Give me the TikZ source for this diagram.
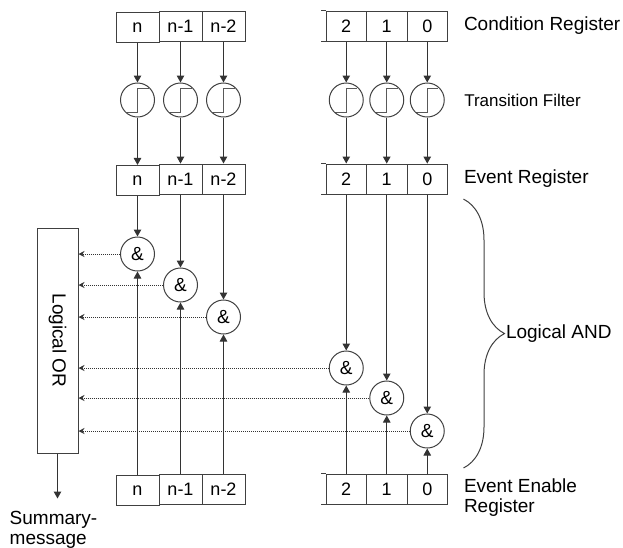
\documentclass[tikz,border=0pt]{standalone}
\usepackage{fontspec}
\setmainfont{Liberation Sans}
\usetikzlibrary{matrix,positioning,decorations.pathreplacing,arrows.meta}

\begin{document}
\begin{tikzpicture}[
    x=1pt, y=-1pt, line width=1pt,
    font=\fontsize{19}{20}\selectfont,
    reg/.style={matrix of nodes, inner sep=0pt, column sep=-1pt,
        nodes={draw=black!75, minimum height=30pt, minimum width=43pt, inner sep=0pt,
            font=\fontsize{18}{20}\selectfont}},
    regr/.style={reg, nodes={minimum width=40.5pt}},
    filt/.style={circle, draw=black!75, minimum size=34pt, inner sep=0pt,
        path picture={\draw[black!65] ([xshift=-11pt,yshift=-12pt]path picture bounding box.center)
            -- ++(11pt,0pt) -- ++(0pt,24pt) -- ++(11pt,0pt);}},
    gate/.style={circle, draw=black!75, minimum size=34pt, inner sep=0pt},
    arr/.style={draw=black!80, -{Triangle[length=7pt,width=7.5pt]}},
    dot/.style={draw=black!80, dash pattern=on 1pt off 1pt, -{Stealth[length=6pt,width=6pt]}},
    lbl/.style={inner sep=0pt, text=black}
]
    \useasboundingbox (0,0) rectangle (623,547);

    % Condition register
    \matrix (CL) [reg, anchor=north west] at (115,10) {
        n & n-1 & n-2 \\
    };
    \matrix (CR) [regr, anchor=north west] at (325,10) {
        2 & 1 & 0 \\
    };

    % Event register
    \matrix (EL) [reg, anchor=north west] at (115,163) {
        n & n-1 & n-2 \\
    };
    \matrix (ER) [regr, anchor=north west] at (325,163) {
        2 & 1 & 0 \\
    };

    % Event enable register
    \matrix (NL) [reg, anchor=north west] at (115,473) {
        n & n-1 & n-2 \\
    };
    \matrix (NR) [regr, anchor=north west] at (325,473) {
        2 & 1 & 0 \\
    };

    \draw[black!75] (CR-1-1.north west) -- ++(-5pt,0pt);
    \draw[black!75] (CR-1-1.south west) -- ++(-5pt,0pt);
    \draw[black!75] (ER-1-1.north west) -- ++(-5pt,0pt);
    \draw[black!75] (ER-1-1.south west) -- ++(-5pt,0pt);
    \draw[black!75] (NR-1-1.north west) -- ++(-5pt,0pt);
    \draw[black!75] (NR-1-1.south west) -- ++(-5pt,0pt);

    % Transition filters
    \node[filt] (fn) at (CL-1-1 |- 0,100) {};
    \node[filt] (fm1) at (CL-1-2 |- 0,100) {};
    \node[filt] (fm2) at (CL-1-3 |- 0,100) {};
    \node[filt] (f2) at (CR-1-1 |- 0,100) {};
    \node[filt] (f1) at (CR-1-2 |- 0,100) {};
    \node[filt] (f0) at (CR-1-3 |- 0,100) {};

    % AND gates
    \node[gate] (gn) at (EL-1-1 |- 0,254) {\&};
    \node[gate] (gm1) at (EL-1-2 |- 0,285) {\&};
    \node[gate] (gm2) at (EL-1-3 |- 0,317) {\&};
    \node[gate] (g2) at (ER-1-1 |- 0,368) {\&};
    \node[gate] (g1) at (ER-1-2 |- 0,398) {\&};
    \node[gate] (g0) at (ER-1-3 |- 0,431) {\&};

    % OR box
    \node[draw=black!75, minimum width=41pt, minimum height=225pt, inner sep=0pt] (OR) at (57.5,340.5) {};
    \node[rotate=-90] (ortxt) at (OR) {Logical OR};
    \coordinate[below=45pt of OR] (sumend);
    \node[lbl, align=left, below=12pt of sumend, xshift=-4pt] (summ) {Summary-\\message};

    % Condition -> filter -> event
    \draw[arr] (CL-1-1) -- (fn);
    \draw[arr] (CL-1-2) -- (fm1);
    \draw[arr] (CL-1-3) -- (fm2);
    \draw[arr] (CR-1-1) -- (f2);
    \draw[arr] (CR-1-2) -- (f1);
    \draw[arr] (CR-1-3) -- (f0);

    \draw[arr] (fn) -- (EL-1-1);
    \draw[arr] (fm1) -- (EL-1-2);
    \draw[arr] (fm2) -- (EL-1-3);
    \draw[arr] (f2) -- (ER-1-1);
    \draw[arr] (f1) -- (ER-1-2);
    \draw[arr] (f0) -- (ER-1-3);

    % Event / enable -> gates
    \draw[arr] (EL-1-1) -- (gn);
    \draw[arr] (EL-1-2) -- (gm1);
    \draw[arr] (EL-1-3) -- (gm2);
    \draw[arr] (ER-1-1) -- (g2);
    \draw[arr] (ER-1-2) -- (g1);
    \draw[arr] (ER-1-3) -- (g0);

    \draw[arr] (NL-1-1) -- (gn);
    \draw[arr] (NL-1-2) -- (gm1);
    \draw[arr] (NL-1-3) -- (gm2);
    \draw[arr] (NR-1-1) -- (g2);
    \draw[arr] (NR-1-2) -- (g1);
    \draw[arr] (NR-1-3) -- (g0);

    % Gates -> OR
    \draw[dot] (gn) -- (gn -| OR.east);
    \draw[dot] (gm1) -- (gm1 -| OR.east);
    \draw[dot] (gm2) -- (gm2 -| OR.east);
    \draw[dot] (g2) -- (g2 -| OR.east);
    \draw[dot] (g1) -- (g1 -| OR.east);
    \draw[dot] (g0) -- (g0 -| OR.east);

    \draw[arr] (OR) -- (sumend);

    % Brace
    \coordinate (btop) at ([xshift=15pt,yshift=-4pt]ER.south east);
    \coordinate (bbot) at ([xshift=15pt,yshift=5pt]NR.north east);
    \draw[black!75, decorate, decoration={brace, amplitude=41pt}] (btop) -- node[lbl, right=42pt] (andlbl) {Logical AND} (bbot);

    % Labels
    \node[lbl, right=15pt of CR] (crlbl) {Condition Register};
    \node[lbl, right=19pt of f0, font=\fontsize{17}{18}\selectfont] (tflbl) {Transition Filter};
    \node[lbl, right=15pt of ER] (erlbl) {Event Register};
    \node[lbl, align=left, anchor=north west] (nrlbl) at ([xshift=15pt,yshift=-5pt]NR.north east) {Event Enable\\Register};

\end{tikzpicture}
\end{document}
